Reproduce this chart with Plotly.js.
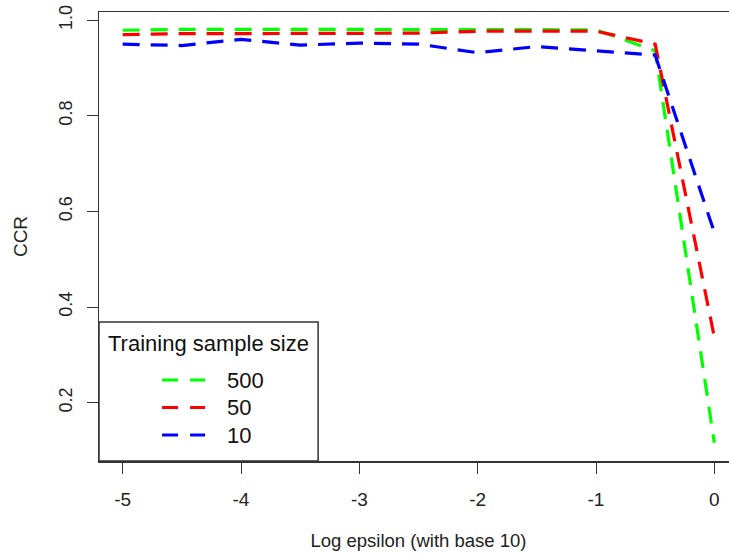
<!DOCTYPE html>
<html>
<head>
<meta charset="utf-8">
<script src="https://cdn.plot.ly/plotly-3.0.1.min.js"></script>
<style>
html, body { margin: 0; padding: 0; overflow: hidden; background: #fff; }
#chart { width: 760px; height: 554px; }
</style>
</head>
<body>
<div id="chart"></div>
<script>
// x values: log10(epsilon)
const logEpsilon = [-5, -4.5, -4, -3.5, -3, -2.5, -2, -1.5, -1, -0.5, 0];
// CCR by training sample size
const ccr500 = [0.979, 0.981, 0.981, 0.981, 0.981, 0.981, 0.981, 0.981, 0.980, 0.936, 0.116];
const ccr50  = [0.970, 0.972, 0.972, 0.972, 0.972, 0.973, 0.977, 0.977, 0.977, 0.950, 0.337];
const ccr10  = [0.950, 0.947, 0.960, 0.948, 0.952, 0.950, 0.932, 0.945, 0.936, 0.927, 0.556];
const seriesNames = ['500', '50', '10'];
const seriesColors = ['#00FF00', '#FF0000', '#0000FF'];
const xTicks = [-5, -4, -3, -2, -1, 0];
const yTicks = [0.2, 0.4, 0.6, 0.8, 1.0];
const yTickText = ['0.2', '0.4', '0.6', '0.8', '1.0'];
const legendTitle = 'Training sample size';

const dashPattern = '17px,11px';
const seriesValues = [ccr500, ccr50, ccr10];
const traces = seriesValues.map((vals, i) => ({
  x: logEpsilon, y: vals, type: 'scatter', mode: 'lines', name: seriesNames[i],
  line: { color: seriesColors[i], width: 3.2, dash: dashPattern },
  showlegend: false, hoverinfo: 'x+y+name'
}));

const fontFam = '"Liberation Sans", Arial, sans-serif';
const axisColor = '#333333';

// manual R-style legend (positions in paper coordinates)
const boxX1 = 0.3429, boxY1 = 0.3096;
const itemYs = [0.1804, 0.1192, 0.0579];
const sampleX0 = 0.0987, sampleX1 = 0.1660, labelX = 0.1973;

const shapes = [{
  type: 'rect', xref: 'paper', yref: 'paper', x0: 0, x1: boxX1, y0: 0, y1: boxY1,
  line: { color: axisColor, width: 1.5 }, fillcolor: '#ffffff', layer: 'above'
}];
const annotations = [{
  xref: 'paper', yref: 'paper', x: boxX1 / 2, y: 0.2628, xanchor: 'center', yanchor: 'middle',
  text: legendTitle, showarrow: false, font: { family: fontFam, size: 22, color: '#111' }
}];
seriesNames.forEach((nm, i) => {
  shapes.push({
    type: 'line', xref: 'paper', yref: 'paper', x0: sampleX0, x1: sampleX1, y0: itemYs[i], y1: itemYs[i],
    line: { color: seriesColors[i], width: 3.2, dash: '16px,12px' }, layer: 'above'
  });
  annotations.push({
    xref: 'paper', yref: 'paper', x: labelX, y: itemYs[i], xanchor: 'left', yanchor: 'middle',
    text: nm, showarrow: false, font: { family: fontFam, size: 22, color: '#111' }
  });
});

const layout = {
  width: 760, height: 554,
  margin: { l: 99, r: 22, t: 12, b: 93 },
  paper_bgcolor: '#ffffff', plot_bgcolor: '#ffffff',
  font: { family: fontFam, color: '#222' },
  showlegend: false,
  xaxis: {
    range: [-5.2, 0.2], tickvals: xTicks, ticktext: xTicks.map(String),
    ticks: 'outside', ticklen: 11, tickwidth: 1, tickcolor: axisColor,
    showline: true, linecolor: axisColor, linewidth: 1.5, mirror: true,
    showgrid: false, zeroline: false,
    tickfont: { family: fontFam, size: 19, color: '#222' },
    ticklabelstandoff: 10,
    title: { text: 'Log epsilon (with base 10)', font: { family: fontFam, size: 18.5, color: '#222' }, standoff: 25 }
  },
  yaxis: {
    range: [0.0778, 1.0172], tickvals: yTicks, ticktext: yTickText, tickangle: -90,
    ticks: 'outside', ticklen: 11, tickwidth: 1, tickcolor: axisColor,
    showline: true, linecolor: axisColor, linewidth: 1.5, mirror: true,
    showgrid: false, zeroline: false,
    tickfont: { family: fontFam, size: 18, color: '#222' },
    ticklabelstandoff: 7,
    title: { text: 'CCR', font: { family: fontFam, size: 19, color: '#222' }, standoff: 23 }
  },
  shapes: shapes,
  annotations: annotations
};

Plotly.newPlot('chart', traces, layout, { displayModeBar: false, staticPlot: true });
</script>
</body>
</html>
